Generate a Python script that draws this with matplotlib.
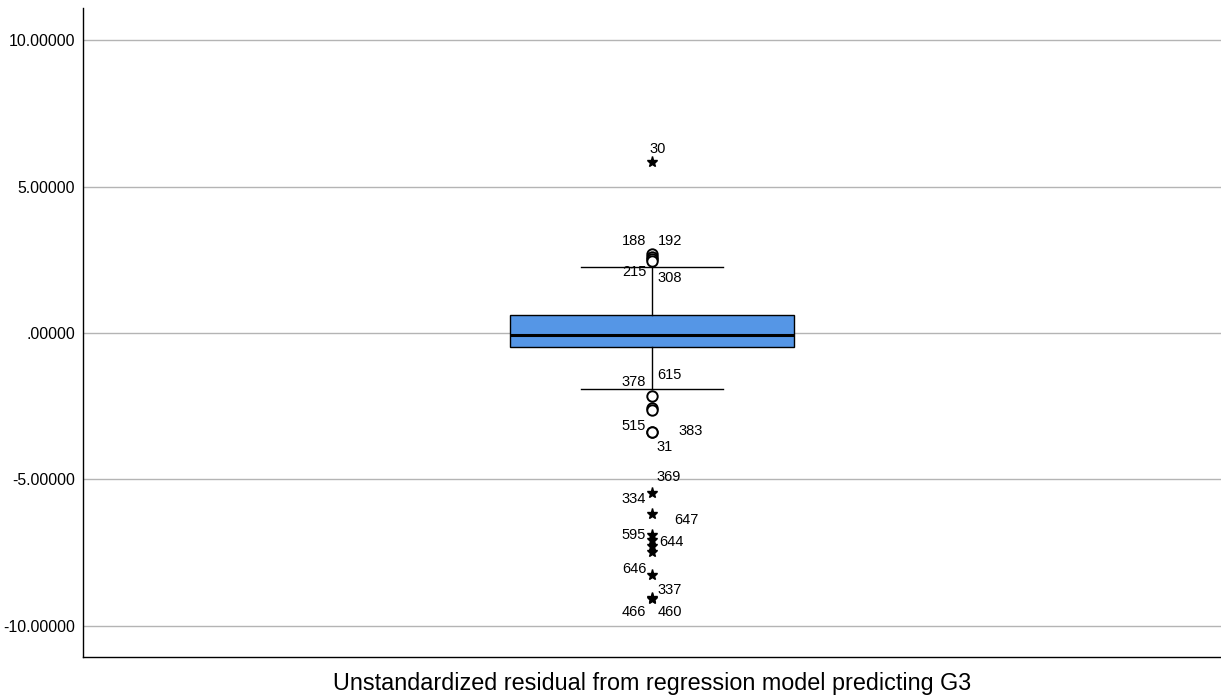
import matplotlib
matplotlib.use("Agg")
import matplotlib.pyplot as plt
from matplotlib.ticker import FuncFormatter

plt.rcParams['font.family'] = ['Liberation Sans', 'DejaVu Sans']

# box summary of the residuals
q1 = -0.48
median = -0.07
q3 = 0.61
whisker_low = -1.91
whisker_high = 2.25

# mild outliers (circles) and extreme outliers (stars)
circle_values = [2.68, 2.60, 2.53, 2.47, -2.15, -2.58, -2.64, -3.37, -3.40]
star_values = [5.84, -5.46, -6.18, -6.90, -7.07, -7.27, -7.50, -8.26, -9.04, -9.10]

# case labels and the point each one is attached to
case_labels = ['30', '188', '192', '215', '308', '378', '615', '515', '383', '31',
               '369', '334', '647', '595', '644', '646', '337', '466', '460']
label_values = [5.84, 2.68, 2.68, 2.47, 2.47, -2.15, -2.15, -3.37, -3.37, -3.40,
                -5.46, -5.46, -6.18, -6.90, -7.07, -8.26, -9.04, -9.10, -9.10]
# offsets in pixels (dx, dy) from the point to the label centre, dy up
label_offsets = [(6, 13), (-18, 13), (18, 13), (-18, -11), (18, -17), (-18, 14), (17, 21),
                 (-18, 6), (39, 1), (13, -15), (17, 16), (-18, -6), (34, -6),
                 (-18, 0), (19, -2), (-18, 6), (18, 8), (-18, -13), (18, -13)]

fig = plt.figure(figsize=(12.21, 6.98), dpi=100)
ax = fig.add_axes([83 / 1221, 41 / 698, 1 - 83 / 1221, 649 / 698])

stats = [dict(med=median, q1=q1, q3=q3, whislo=whisker_low, whishi=whisker_high, fliers=[])]
ax.bxp(stats, positions=[0], widths=0.5, capwidths=0.25, patch_artist=True,
       boxprops=dict(facecolor='#5596e6', edgecolor='black', linewidth=1.0),
       medianprops=dict(color='black', linewidth=2.2),
       whiskerprops=dict(color='black', linewidth=1.0),
       capprops=dict(color='black', linewidth=1.0), zorder=3)

ax.plot([0] * len(circle_values), circle_values, linestyle='none', marker='o',
        markersize=7.5, markerfacecolor='white', markeredgecolor='black',
        markeredgewidth=1.4, zorder=4)
ax.plot([0] * len(star_values), star_values, linestyle='none', marker='*',
        markersize=8, color='black', zorder=4)

for lab, val, (dx, dy) in zip(case_labels, label_values, label_offsets):
    ax.annotate(lab, (0, val), xytext=(dx * 0.72, dy * 0.72), textcoords='offset points',
                ha='center', va='center', fontsize=10.5, zorder=5)

ax.set_xlim(-1, 1)
ax.set_ylim(-11.07, 11.1)
ax.set_yticks([-10, -5, 0, 5, 10])
ax.yaxis.set_major_formatter(FuncFormatter(
    lambda v, p: '.00000' if abs(v) < 1e-9 else f'{v:.5f}'))
ax.set_xticks([])
ax.tick_params(axis='y', length=0, labelsize=11.4, pad=5.5)
ax.yaxis.grid(True, color='#b4b4b4', linewidth=1.0)
ax.set_axisbelow(True)
ax.spines['top'].set_visible(False)
ax.spines['right'].set_visible(False)
ax.spines['left'].set_linewidth(1.0)
ax.spines['bottom'].set_linewidth(1.0)
ax.set_xlabel('Unstandardized residual from regression model predicting G3',
              fontsize=16.8, labelpad=11)

fig.savefig('out.png', dpi=100)
